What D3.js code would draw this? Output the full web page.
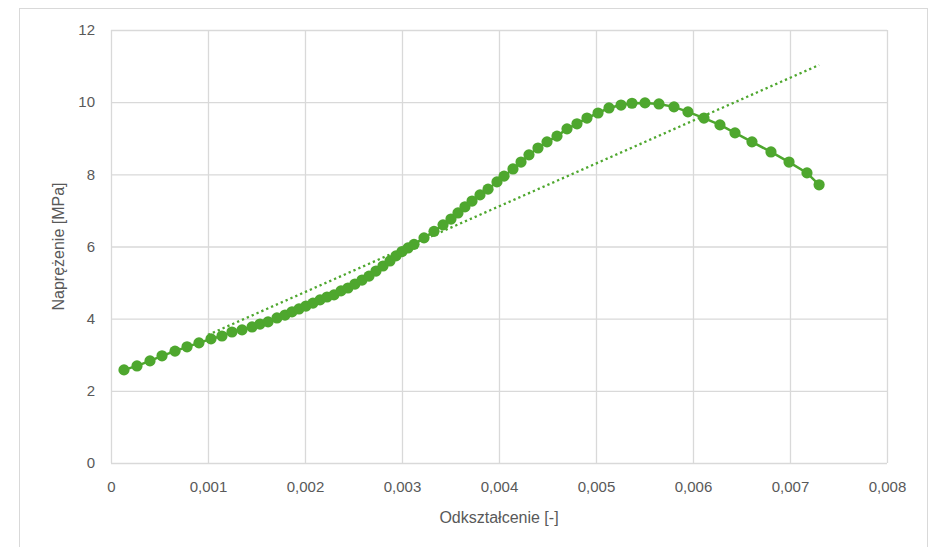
<!DOCTYPE html>
<html>
<head>
<meta charset="utf-8">
<script src="https://cdn.jsdelivr.net/npm/d3@7"></script>
<style>
  body { margin: 0; background: #fff; }
  text { font-family: "Liberation Sans", Arial, sans-serif; fill: #595959; }
</style>
</head>
<body>
<svg id="chart" width="930" height="547"></svg>
<script>
// measured points: strain [-] and stress [MPa]
var strain = [
  0.000134, 0.000268, 0.000402, 0.000526, 0.000660, 0.000784, 0.000907, 0.001031,
  0.001144, 0.001247, 0.001351, 0.001454, 0.001536, 0.001619, 0.001711, 0.001794,
  0.001866, 0.001938, 0.002010, 0.002082, 0.002155, 0.002227, 0.002299, 0.002371,
  0.002443, 0.002515, 0.002588, 0.002660, 0.002732, 0.002804, 0.002876, 0.002938,
  0.003000, 0.003062, 0.003124, 0.003227, 0.003330, 0.003423, 0.003505, 0.003577,
  0.003649, 0.003722, 0.003804, 0.003887, 0.003979, 0.004052, 0.004144, 0.004227,
  0.004309, 0.004402, 0.004495, 0.004598, 0.004701, 0.004804, 0.004907, 0.005021,
  0.005134, 0.005258, 0.005371, 0.005505, 0.005649, 0.005804, 0.005948, 0.006113,
  0.006278, 0.006433, 0.006608, 0.006804, 0.006990, 0.007175, 0.007300
]
var stress = [
  2.58, 2.69, 2.83, 2.97, 3.10, 3.22, 3.33, 3.44,
  3.52, 3.63, 3.69, 3.77, 3.85, 3.91, 4.02, 4.10,
  4.19, 4.27, 4.35, 4.43, 4.52, 4.60, 4.66, 4.77,
  4.85, 4.96, 5.07, 5.18, 5.32, 5.46, 5.60, 5.74,
  5.86, 5.96, 6.06, 6.24, 6.42, 6.60, 6.76, 6.93,
  7.10, 7.26, 7.43, 7.59, 7.79, 7.95, 8.15, 8.34,
  8.54, 8.73, 8.90, 9.06, 9.26, 9.40, 9.56, 9.70,
  9.84, 9.92, 9.97, 9.98, 9.95, 9.87, 9.73, 9.56,
  9.37, 9.15, 8.90, 8.62, 8.34, 8.04, 7.71
]

// linear trend line ends
var trendX = [0.001, 0.0073]
var trendY = [3.55, 11.03]

var xTicks = [0, 0.001, 0.002, 0.003, 0.004, 0.005, 0.006, 0.007, 0.008]
var yTicks = [0, 2, 4, 6, 8, 10, 12]

var color = '#4ea72e'
  , grid = '#d9d9d9'

var svg = d3.select('#chart')
  , pLeft = 111, pRight = 887, pTop = 30, pBottom = 463

var pl = d3.formatLocale({ decimal: ',', thousands: ' ', grouping: [3], currency: ['', ' zł'] })
var fx = pl.format('.3f')

var x = d3.scaleLinear().domain([0, 0.008]).range([pLeft, pRight])
var y = d3.scaleLinear().domain([0, 12]).range([pBottom, pTop])

// chart area border
svg.append('rect')
  .attr('x', 19.5).attr('y', 8.5)
  .attr('width', 908).attr('height', 570)
  .attr('fill', 'none').attr('stroke', grid)

// gridlines
var gx = svg.append('g')
  .attr('transform', 'translate(0,' + pBottom + ')')
  .call(d3.axisBottom(x).tickValues(xTicks).tickSize(-(pBottom - pTop)).tickPadding(18)
    .tickFormat(function (d) { return d === 0 ? '0' : fx(d) }))
var gy = svg.append('g')
  .attr('transform', 'translate(' + pLeft + ',0)')
  .call(d3.axisLeft(y).tickValues(yTicks).tickSize(-(pRight - pLeft)).tickPadding(16))

;[gx, gy].forEach(function (g) {
  g.select('.domain').remove()
  g.selectAll('line').attr('stroke', grid).attr('stroke-width', 1.3)
  g.selectAll('text').attr('font-size', 15).attr('fill', '#595959')
    .style('font-family', '"Liberation Sans", Arial, sans-serif')
})

// axis titles
svg.append('text')
  .attr('x', (pLeft + pRight) / 2).attr('y', 523)
  .attr('text-anchor', 'middle').attr('font-size', 16)
  .text('Odkształcenie [-]')
svg.append('text')
  .attr('transform', 'translate(64,' + (pTop + pBottom) / 2 + ') rotate(-90)')
  .attr('text-anchor', 'middle').attr('font-size', 16)
  .text('Naprężenie [MPa]')

var pts = strain.map(function (d, i) { return [d, stress[i]] })
var line = d3.line().x(function (d) { return x(d[0]) }).y(function (d) { return y(d[1]) })

// trend line
svg.append('path')
  .datum(trendX.map(function (d, i) { return [d, trendY[i]] }))
  .attr('d', line)
  .attr('fill', 'none').attr('stroke', color)
  .attr('stroke-width', 2.3).attr('stroke-dasharray', '2.3 3')

// series line and markers
svg.append('path')
  .datum(pts)
  .attr('d', line)
  .attr('fill', 'none').attr('stroke', color).attr('stroke-width', 2.5)

svg.append('g')
  .selectAll('circle')
  .data(pts)
  .enter()
  .append('circle')
  .attr('cx', function (d) { return x(d[0]) })
  .attr('cy', function (d) { return y(d[1]) })
  .attr('r', 5.6)
  .attr('fill', color)
</script>
</body>
</html>
